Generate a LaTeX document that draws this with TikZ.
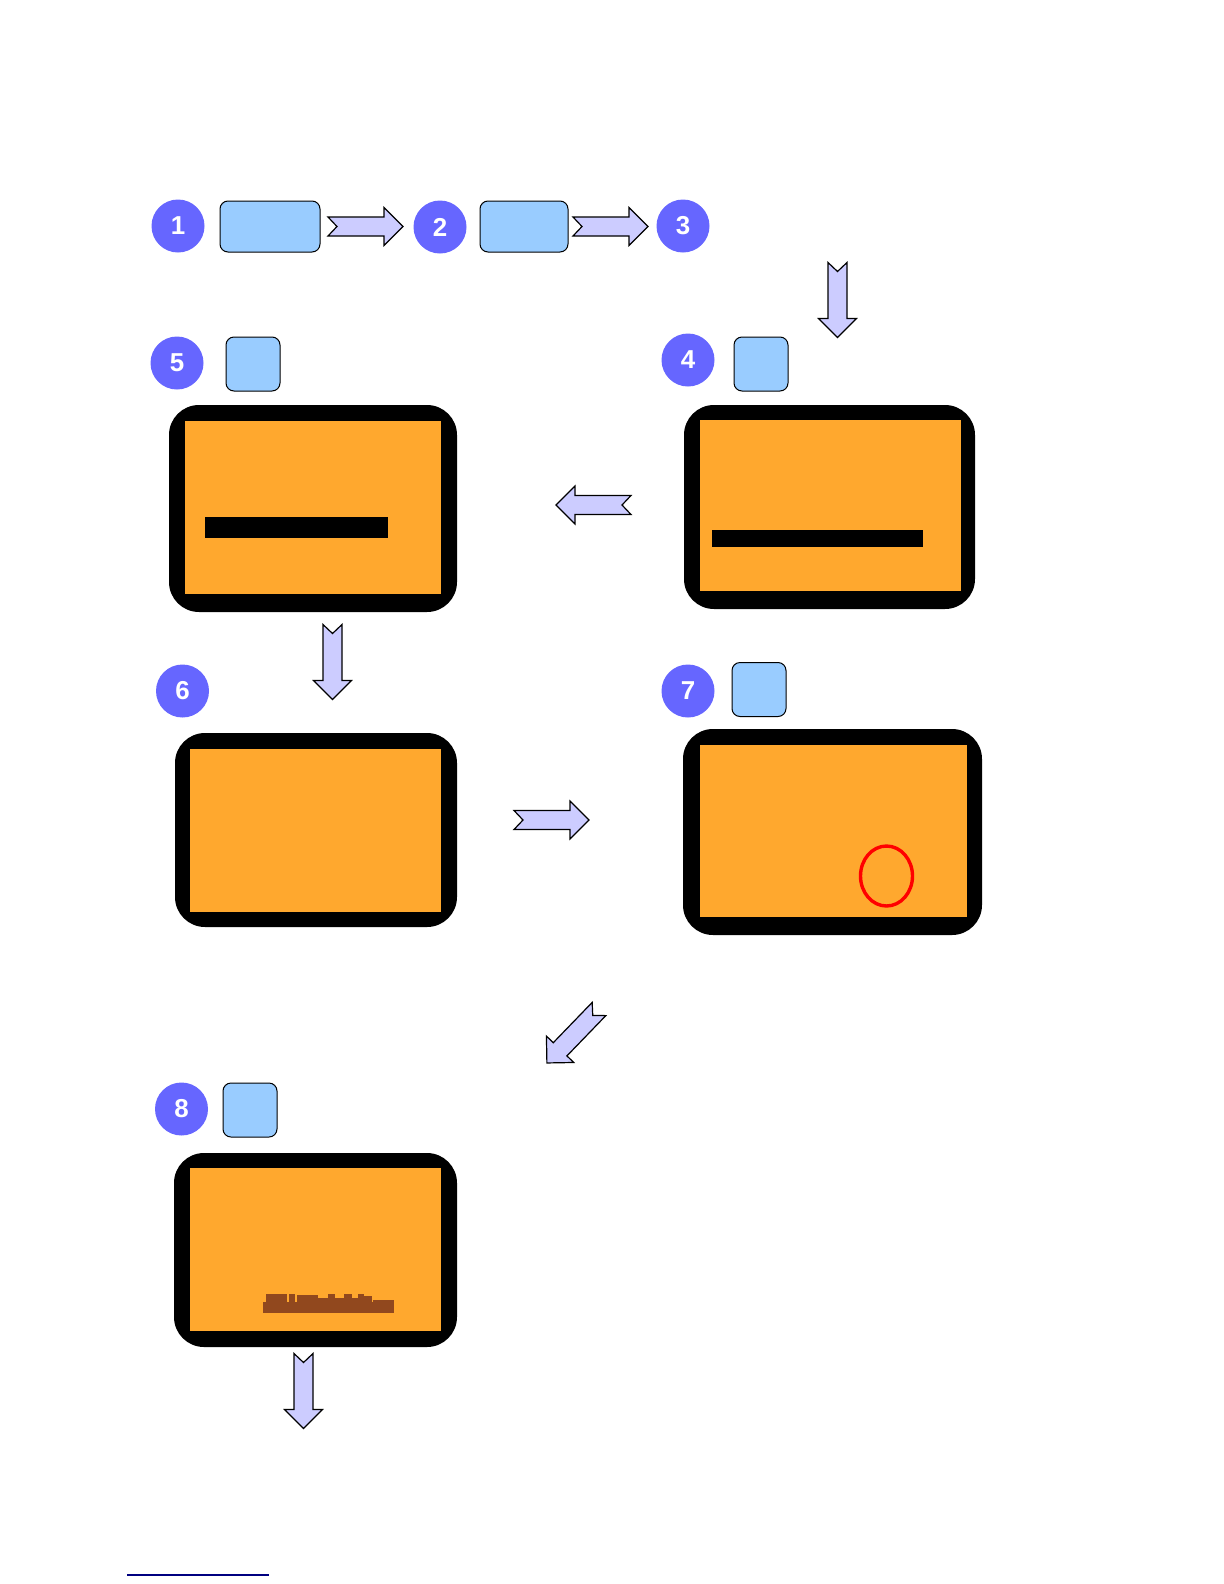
\documentclass[tikz,border=0pt]{standalone}
\usepackage{fontspec}
\setmainfont{Liberation Sans}
\definecolor{circblue}{HTML}{6666FF}
\definecolor{boxblue}{HTML}{99CCFF}
\definecolor{arrfill}{HTML}{CCCCFF}
\definecolor{panelorange}{HTML}{FFA82E}
\definecolor{stripbrown}{RGB}{145,72,30}
\definecolor{linenavy}{HTML}{000080}
\newcommand{\blockarrow}[4]{%
  \begin{scope}[shift={(#1,#2)},rotate=#3]
    \draw[blockarr] (0,-9.5) -- (56,-9.5) -- (56,-19) -- (75,0) -- (56,19) -- (56,9.5) -- (0,9.5) -- (9,0) -- cycle;
    \coordinate (#4) at (37.5,0);
  \end{scope}}
\newcommand{\panelbox}[9]{%
  % #1 name, #2-#5 outer x1 y1 x2 y2, #6-#9 inner x1 y1 x2 y2
  \fill[black,rounded corners=15bp] (#2,#3) rectangle (#4,#5);
  \fill[panelorange] (#6,#7) rectangle (#8,#9);
  \coordinate (#1) at ({(#2+#4)/2},{(#3+#5)/2});}
\begin{document}
\begin{tikzpicture}[x=0.5bp,y=-0.5bp,
  numcirc/.style={circle,fill=circblue,draw=none,minimum size=26.5bp,inner sep=0pt,
    text=white,font=\fontsize{13}{13}\selectfont\bfseries},
  bluebox/.style={draw=black,line width=0.5bp,fill=boxblue,rounded corners=4bp,inner sep=0pt},
  blockarr/.style={draw=black,line width=0.6bp,fill=arrfill,line join=miter}]
\useasboundingbox (0,0) rectangle (1224,1584);
\fill[white] (0,0) rectangle (1224,1584);

% numbered circles
\node[numcirc] (c1) at (178,226) {1};
\node[numcirc] (c2) at (440,227) {2};
\node[numcirc] (c3) at (683,226) {3};
\node[numcirc] (c4) at (688,360) {4};
\node[numcirc] (c5) at (177,363) {5};
\node[numcirc] (c6) at (182.5,691) {6};
\node[numcirc] (c7) at (688,691) {7};
\node[numcirc] (c8) at (181.5,1109) {8};

% light blue boxes
\node[bluebox,minimum width=50bp,minimum height=25.5bp] (b1) at (270,226.5) {};
\node[bluebox,minimum width=44bp,minimum height=25.5bp] (b2) at (524,226.5) {};
\node[bluebox,minimum width=27bp,minimum height=27bp] (b4) at (761,364) {};
\node[bluebox,minimum width=27bp,minimum height=27bp] (b5) at (253,364) {};
\node[bluebox,minimum width=27bp,minimum height=27bp] (b7) at (759,689.5) {};
\node[bluebox,minimum width=27bp,minimum height=27bp] (b8) at (250,1110) {};

% panels
\panelbox{p5}{169}{405}{457}{612}{185}{421}{441}{594}
\fill[black] (205,517) rectangle (388,538);
\panelbox{p4}{684}{405}{975}{609}{700}{420}{961}{591}
\fill[black] (712,530) rectangle (923,547);
\panelbox{p6}{175}{733}{457}{927}{190}{749}{441}{912}
\panelbox{p7}{683}{729}{982}{935}{700}{745}{967}{917}
\draw[red,line width=1.7bp] (886.5,876) ellipse [x radius=26,y radius=30];
\panelbox{p8}{174}{1153}{457}{1347}{190}{1168}{441}{1331}

% brown strip in panel 8
\begin{scope}[stripbrown]
\fill (263,1302) rectangle (394,1313);
\fill (266,1294) rectangle (287,1303);
\fill (289,1294) rectangle (295,1303);
\fill (297,1295) rectangle (318,1303);
\fill (318,1298) rectangle (328,1303);
\fill (328,1294) rectangle (335,1303);
\fill (335,1298) rectangle (344,1303);
\fill (344,1294) rectangle (352,1303);
\fill (352,1298) rectangle (358,1303);
\fill (358,1294) rectangle (364,1303);
\fill (364,1296) rectangle (372,1303);
\fill (373,1300) rectangle (394,1303);
\end{scope}

% block arrows
\blockarrow{328}{226.5}{0}{a1}
\blockarrow{573}{226.5}{0}{a2}
\blockarrow{837.5}{262.5}{-90}{a3}
\blockarrow{631}{505}{180}{a4}
\blockarrow{332.5}{624.5}{-90}{a5}
\blockarrow{514}{820}{0}{a6}
\blockarrow{599}{1009}{226}{a7}
\blockarrow{303.5}{1353.5}{-90}{a8}

% bottom rule
\coordinate (l1) at (127,1575);
\coordinate (l2) at (269,1575);
\draw[linenavy,line width=1bp] (l1) -- (l2);
\end{tikzpicture}
\end{document}
